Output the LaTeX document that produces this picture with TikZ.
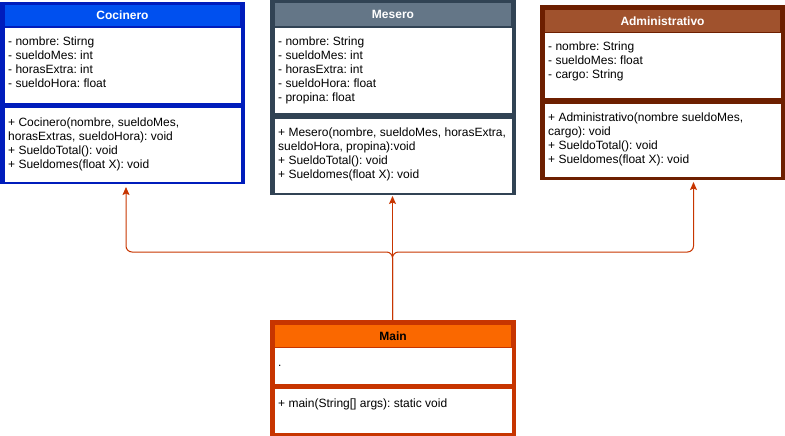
\documentclass[tikz,border=0pt]{standalone}
\usepackage{fontspec}
\setmainfont{Liberation Sans}
\usepackage{xcolor}
\usetikzlibrary{positioning,arrows.meta}
\frenchspacing

\definecolor{cocFill}{HTML}{0050EF}
\definecolor{cocLine}{HTML}{001DBC}
\definecolor{mesFill}{HTML}{647687}
\definecolor{mesLine}{HTML}{314354}
\definecolor{admFill}{HTML}{A0522D}
\definecolor{admLine}{HTML}{6D1F00}
\definecolor{mainFill}{HTML}{FA6800}
\definecolor{mainLine}{HTML}{C73500}

\begin{document}
\begin{tikzpicture}[x=1pt,y=-1pt,
    frame/.style={anchor=north west, inner sep=0pt, outer sep=0pt},
    head/.style={inner sep=0pt, outer sep=0pt, text=white,
      font=\fontsize{12}{14}\selectfont\bfseries},
    panel/.style={fill=white, inner sep=0pt, outer sep=0pt},
    members/.style={anchor=north west, align=left, inner sep=0pt,
      font=\fontsize{12}{14}\selectfont, execute at begin node=\strut},
    conn/.style={draw=mainLine, line width=1pt, rounded corners=6pt,
      -{Stealth[length=8pt,width=7pt,inset=1.5pt]}}]
  \useasboundingbox (0,0) rectangle (785,436);

  % Cocinero
  \node[frame, fill=cocLine, minimum width=245pt, minimum height=182pt] (coc) at (0,2) {};
  \node[head, fill=cocFill, minimum width=235pt, minimum height=21pt, below=3pt of coc.north] (cocH) {Cocinero};
  \node[panel, minimum width=236pt, minimum height=75pt, below=2pt of cocH] (cocA) {};
  \node[panel, minimum width=236pt, minimum height=74pt, below=5pt of cocA] (cocM) {};
  \node[members] (cocAt) at ([xshift=3.5pt,yshift=-8.7pt]cocA.north west)
    {- nombre: Stirng\\- sueldoMes: int\\- horasExtra: int\\- sueldoHora: float};
  \node[members] (cocMt) at ([xshift=3.5pt,yshift=-9.5pt]cocM.north west)
    {+ Cocinero(nombre, sueldoMes,\\horasExtras, sueldoHora): void\\+ SueldoTotal(): void\\+ Sueldomes(float X): void};

  % Mesero
  \node[frame, fill=mesLine, minimum width=246pt, minimum height=195pt] (mes) at (270,0) {};
  \node[head, fill=mesFill, minimum width=236pt, minimum height=23pt, below=3pt of mes.north] (mesH) {Mesero};
  \node[panel, minimum width=237pt, minimum height=85pt, below=2pt of mesH] (mesA) {};
  \node[panel, minimum width=237pt, minimum height=74pt, below=6pt of mesA] (mesM) {};
  \node[members] (mesAt) at ([xshift=3.5pt,yshift=-8.7pt]mesA.north west)
    {- nombre: String\\- sueldoMes: int\\- horasExtra: int\\- sueldoHora: float\\- propina: float};
  \node[members] (mesMt) at ([xshift=3.5pt,yshift=-8.7pt]mesM.north west)
    {+ Mesero(nombre, sueldoMes, horasExtra,\\sueldoHora, propina):void\\+ SueldoTotal(): void\\+ Sueldomes(float X): void};

  % Administrativo
  \node[frame, fill=admLine, minimum width=245pt, minimum height=175pt] (adm) at (540,5) {};
  \node[head, fill=admFill, minimum width=235pt, minimum height=22pt, below=5pt of adm.north] (admH) {Administrativo};
  \node[panel, minimum width=236pt, minimum height=65pt, below=1pt of admH] (admA) {};
  \node[panel, minimum width=236pt, minimum height=73pt, below=6pt of admA] (admM) {};
  \node[members] (admAt) at ([xshift=3.5pt,yshift=-8.7pt]admA.north west)
    {- nombre: String\\- sueldoMes: float\\- cargo: String};
  \node[members] (admMt) at ([xshift=3.5pt,yshift=-8.7pt]admM.north west)
    {+ Administrativo(nombre sueldoMes,\\cargo): void\\+ SueldoTotal(): void\\+ Sueldomes(float X): void};

  % Main
  \node[frame, fill=mainLine, minimum width=246pt, minimum height=116pt] (main) at (270,320) {};
  \node[head, fill=mainFill, text=black, minimum width=236pt, minimum height=22pt, below=5pt of main.north] (mainH) {Main};
  \node[panel, minimum width=237pt, minimum height=36pt, below=1pt of mainH] (mainA) {};
  \node[panel, minimum width=237pt, minimum height=44pt, below=5pt of mainA] (mainM) {};
  \node[members] (mainAt) at ([xshift=3.5pt,yshift=-8.7pt]mainA.north west) {.};
  \node[members] (mainMt) at ([xshift=3.5pt,yshift=-8.7pt]mainM.north west)
    {+ main(String[] args): static void};

  % herencia
  \coordinate (mainOut) at ([xshift=-0.5pt]main.north);
  \coordinate (mesEnd) at ([xshift=-0.5pt,yshift=-1pt]mes.south);
  \coordinate (split) at ([yshift=68pt]mainOut);
  \coordinate (cocEnd) at ([xshift=3.5pt,yshift=-3pt]coc.south);
  \coordinate (admEnd) at ([xshift=31pt,yshift=-2pt]adm.south);
  \draw[conn] (mainOut) -- (mesEnd);
  \draw[conn] (mainOut) -- (split) -| (cocEnd);
  \draw[conn] (mainOut) -- (split) -| (admEnd);
\end{tikzpicture}
\end{document}
